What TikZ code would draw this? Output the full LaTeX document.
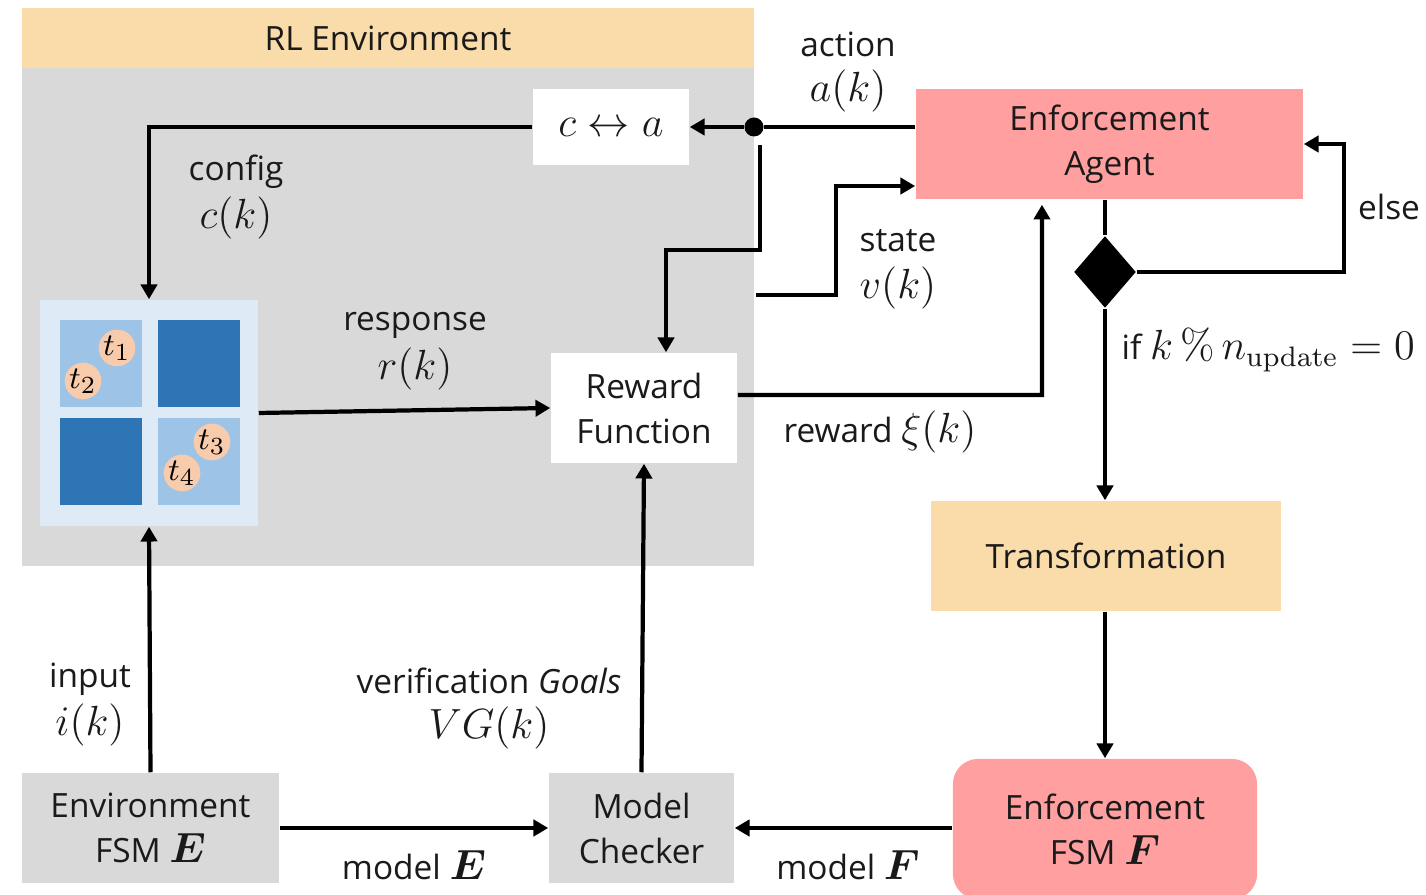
\documentclass[tikz,border=0pt]{standalone}
\usepackage{amsmath}
\usepackage{bm}
\usepackage[no-math]{fontspec}
\setmainfont{Open Sans}
\usetikzlibrary{arrows.meta,shapes.geometric}
\definecolor{peach}{HTML}{FADBAA}
\definecolor{pinkc}{HTML}{FF9F9F}
\definecolor{grayc}{HTML}{D9D9D9}
\definecolor{gridbg}{HTML}{DEEBF7}
\definecolor{lightcell}{HTML}{9DC3E6}
\definecolor{darkcell}{HTML}{2E75B6}
\definecolor{tok}{HTML}{F8CBAD}
\definecolor{txt}{HTML}{1A1A1A}
\newcommand\mth[1]{{\fontsize{12.5}{14}\selectfont$#1$}}
\newcommand\mths[1]{{\fontsize{11.5}{14}\selectfont$#1$}}
\tikzset{
  box/.style={draw=none, inner sep=0pt, align=center, text=txt},
  lbl/.style={inner sep=0pt, align=center, text=txt},
  cell/.style={draw=none, inner sep=0pt, minimum width=0.82cm, minimum height=0.87cm},
  tokn/.style={circle, fill=tok, inner sep=0pt, minimum size=0.36cm},
  wire/.style={line width=1.2pt, draw=black},
  arr/.style={wire, -{Triangle[length=4.2pt,width=4.6pt]}},
}
\begin{document}
\begin{tikzpicture}[x=0.01cm, y=-0.01cm, font=\fontsize{9.5}{12.8}\selectfont]
\useasboundingbox (0,0) rectangle (1426,895);
% RL environment
\node[box, fill=peach, minimum width=7.32cm, minimum height=0.60cm] (hdr) at (388,38) {RL Environment};
\node[box, fill=grayc, minimum width=7.32cm, minimum height=4.98cm] (panel) at (388,317) {};
\node[box, fill=white, minimum width=1.56cm, minimum height=0.76cm] (ca) at (611,127) {\mth{c\leftrightarrow a}};
\node[circle, fill=black, inner sep=0pt, minimum size=0.19cm] (dot) at (754,127) {};
% grid
\node[box, fill=gridbg, minimum width=2.18cm, minimum height=2.26cm] (grid) at (149,413) {};
\node[cell, fill=lightcell] (c1) at (101,363.5) {};
\node[cell, fill=darkcell] (c2) at (199,363.5) {};
\node[cell, fill=darkcell] (c3) at (101,461.5) {};
\node[cell, fill=lightcell] (c4) at (199,461.5) {};
\node[tokn] (t1) at (117,348) {$t_1$};
\node[tokn] (t2) at (83,381) {$t_2$};
\node[tokn] (t3) at (212,442) {$t_3$};
\node[tokn] (t4) at (182,473) {$t_4$};
% other boxes
\node[box, fill=white, minimum width=1.86cm, minimum height=1.10cm] (rew) at (644,408) {Reward\\Function};
\node[box, fill=pinkc, minimum width=3.87cm, minimum height=1.10cm] (agent) at (1109.5,144) {Enforcement\\Agent};
\node[diamond, fill=black, inner sep=0pt, minimum width=0.62cm, minimum height=0.72cm] (dia) at (1105,272) {};
\node[box, fill=peach, minimum width=3.50cm, minimum height=1.10cm] (trans) at (1106,556) {Transformation};
\node[box, fill=pinkc, rounded corners=0.25cm, minimum width=3.04cm, minimum height=1.40cm] (fsmF) at (1105,829) {Enforcement\\FSM \mths{\bm{F}}};
\node[box, fill=grayc, minimum width=1.85cm, minimum height=1.10cm] (mc) at (641.5,828) {Model\\Checker};
\node[box, fill=grayc, minimum width=2.57cm, minimum height=1.10cm] (fsmE) at (150.5,828) {Environment\\FSM \mths{\bm{E}}};
% coordinates
\coordinate (dd) at (760,145);
\coordinate (vs) at (756,295);
% connectors
\draw[wire] (dot -| agent.west) -- (dot);
\draw[arr] (dot) -- (ca.east);
\draw[arr] (ca.west) -| (grid.north);
\draw[arr] (dd) -- (760,250) -| ([xshift=0.22cm]rew.north);
\draw[arr] (vs) -- (836,295) |- ([yshift=-0.42cm]agent.west);
\draw[arr] ([yshift=0.13cm]rew.east) -- (1042,395) -- ([xshift=-0.675cm,yshift=-0.05cm]agent.south);
\draw[wire] (agent.south -| dia) -- (dia.north);
\draw[arr] (dia.east) -- (1344,272) |- (agent.east);
\draw[arr] (dia.south) -- (trans.north -| dia);
\draw[arr] (trans.south -| dia) -- (fsmF.north);
\draw[arr] (fsmF.west |- mc.east) -- (mc.east);
\draw[arr] (mc.north) -- (rew.south);
\draw[arr] (fsmE.east) -- (mc.west);
\draw[arr] (fsmE.north) -- (grid.south);
\draw[arr] (grid.east) -- (rew.west);
% labels
\node[lbl] (lact) at (848,44) {action};
\node[lbl] (lactm) at (848,91) {\mth{a(k)}};
\node[lbl] (lcfg) at (236,172) {config};
\node[lbl] (lcfgm) at (236,218) {\mth{c(k)}};
\node[lbl] (lresp) at (415,325) {response};
\node[lbl] (lrespm) at (415,369) {\mth{r(k)}};
\node[lbl] (lstate) at (898,241) {state};
\node[lbl] (lstatem) at (898,288) {\mth{v(k)}};
\node[lbl] (lelse) at (1389,207) {else};
\node[lbl, anchor=west] (lif) at (1121,350) {if \mths{k\,\%\,n_{\mathrm{update}}=0}};
\node[lbl] (lrew) at (880,432) {reward \mth{\xi(k)}};
\node[lbl] (lin) at (90,679) {input};
\node[lbl] (linm) at (90,725) {\mth{i(k)}};
\node[lbl] (lvg) at (489,681) {verification \textit{Goals}};
\node[lbl] (lvgm) at (489,728) {\mth{VG(k)}};
\node[lbl] (lme) at (414,865) {model \mths{\bm{E}}};
\node[lbl] (lmf) at (848,865) {model \mths{\bm{F}}};
\end{tikzpicture}
\end{document}
